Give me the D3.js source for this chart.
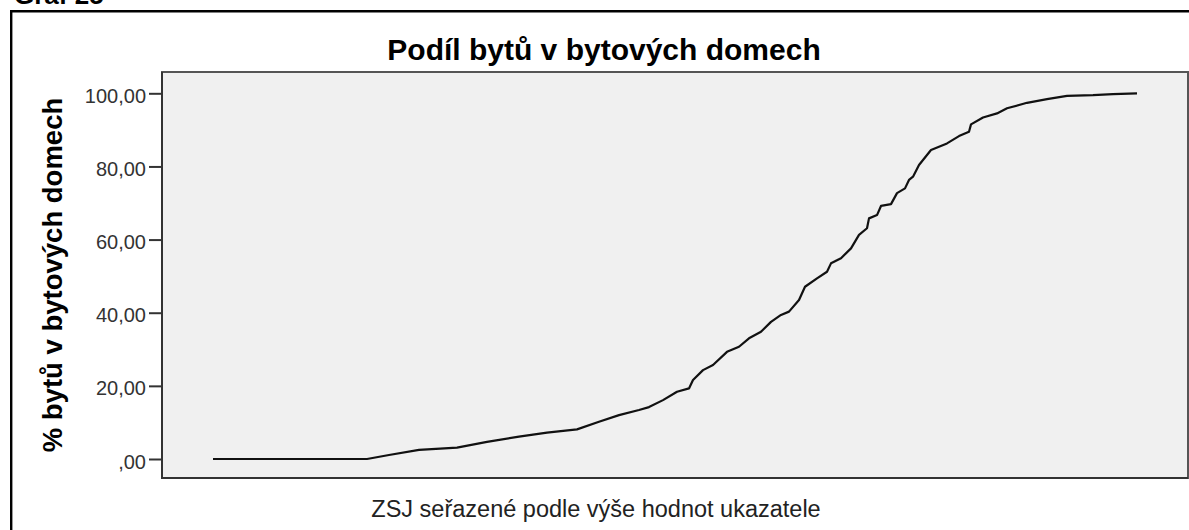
<!DOCTYPE html>
<html>
<head>
<meta charset="utf-8">
<script src="https://cdn.jsdelivr.net/npm/d3@7"></script>
<style>
  html, body { margin: 0; padding: 0; background: #fff; }
  svg { display: block; }
</style>
</head>
<body>
<svg id="chart" width="1189" height="530"></svg>
<script>
// Pořadí ZSJ (seřazeno podle hodnoty ukazatele) a podíl bytů v bytových domech (%)
const poradi = [1, 78, 89, 104, 123, 138, 154, 168, 183, 194, 204, 214, 219, 226, 233, 239, 241, 246, 251,
  258, 264, 269, 275, 280, 285, 289, 294, 297, 303, 308, 310, 315, 320, 324, 328, 329, 333, 335, 340,
  343, 347, 349, 351, 354, 360, 368, 374, 379, 380, 386, 393, 398, 408, 418, 428, 441, 451, 463];
const podil = [0, 0, 1.1, 2.5, 3.1, 4.7, 6.1, 7.2, 8.1, 10.2, 12.0, 13.4, 14.2, 16.1, 18.4, 19.3, 21.6, 24.3, 25.7,
  29.3, 30.7, 33.0, 34.8, 37.5, 39.4, 40.3, 43.5, 47.1, 49.4, 51.2, 53.5, 54.9, 57.6, 61.3, 63.1, 65.8, 66.7, 69.2, 69.7,
  72.7, 74.0, 76.3, 77.2, 80.4, 84.5, 86.3, 88.3, 89.5, 91.5, 93.4, 94.5, 95.9, 97.4, 98.4, 99.3, 99.5, 99.8, 100];
const pocetZSJ = 463;
const yTicks = [0, 20, 40, 60, 80, 100];
const tickLabels = [",00", "20,00", "40,00", "60,00", "80,00", "100,00"];

const svg = d3.select("#chart");
const plot = { left: 162, top: 72, right: 1188, bottom: 478 };

// Mírný okraj kolem první a poslední ZSJ
const pad = 25.5;
const x = d3.scaleLinear().domain([1 - pad, pocetZSJ + pad]).range([plot.left, plot.right]);
const y = d3.scaleLinear().domain([0, 100]).range([459, 93.3]);

// Vnější rámeček grafu
svg.append("path")
  .attr("d", "M11.2,540 L11.2,11.2 L1200,11.2")
  .attr("fill", "none").attr("stroke", "#000").attr("stroke-width", 2.4);

// Nadpis přílohy
svg.append("text")
  .attr("x", 14).attr("y", 4)
  .attr("font-family", "Liberation Sans, Arial, sans-serif")
  .attr("font-weight", "bold").attr("font-size", 26)
  .attr("fill", "#000").text("Graf 25");

// Titulek grafu
svg.append("text")
  .attr("x", 604).attr("y", 59.5)
  .attr("text-anchor", "middle")
  .attr("font-family", "Liberation Sans, Arial, sans-serif")
  .attr("font-weight", "bold").attr("font-size", 30)
  .attr("fill", "#000").text("Podíl bytů v bytových domech");

// Plocha grafu
svg.append("rect")
  .attr("x", plot.left).attr("y", plot.top)
  .attr("width", plot.right - plot.left).attr("height", plot.bottom - plot.top)
  .attr("fill", "#f0f0f0").attr("stroke", "#555").attr("stroke-width", 2);

// Osa Y
const yAxis = d3.axisLeft(y)
  .tickValues(yTicks)
  .tickSize(13)
  .tickPadding(3)
  .tickFormat((d, i) => tickLabels[i]);

const gy = svg.append("g")
  .attr("transform", `translate(${plot.left},0)`)
  .call(yAxis);
gy.select(".domain").remove();
gy.selectAll(".tick line").attr("stroke", "#333").attr("stroke-width", 2);
gy.selectAll(".tick text")
  .attr("font-family", "Liberation Sans, Arial, sans-serif")
  .attr("font-size", 20)
  .attr("fill", "#333")
  .attr("dy", null)
  .attr("y", 9);

// Levá a spodní hrana osy
svg.append("path")
  .attr("d", `M${plot.left},${plot.top} L${plot.left},${plot.bottom} L${plot.right},${plot.bottom}`)
  .attr("fill", "none").attr("stroke", "#333").attr("stroke-width", 2);

// Popisek osy Y
svg.append("text")
  .attr("transform", `translate(62,${(plot.top + plot.bottom) / 2}) rotate(-90)`)
  .attr("text-anchor", "middle")
  .attr("font-family", "Liberation Sans, Arial, sans-serif")
  .attr("font-weight", "bold").attr("font-size", 27.5)
  .attr("fill", "#000").text("% bytů v bytových domech");

// Popisek osy X
svg.append("text")
  .attr("x", 596).attr("y", 517)
  .attr("text-anchor", "middle")
  .attr("font-family", "Liberation Sans, Arial, sans-serif")
  .attr("font-size", 23.5)
  .attr("fill", "#222").text("ZSJ seřazené podle výše hodnot ukazatele");

// Křivka
const data = poradi.map((r, i) => ({ r, v: podil[i] }));
const line = d3.line().x(d => x(d.r)).y(d => y(d.v));
svg.append("path")
  .datum(data)
  .attr("d", line)
  .attr("fill", "none")
  .attr("stroke", "#111")
  .attr("stroke-width", 2.2)
  .attr("stroke-linejoin", "round");
</script>
</body>
</html>
